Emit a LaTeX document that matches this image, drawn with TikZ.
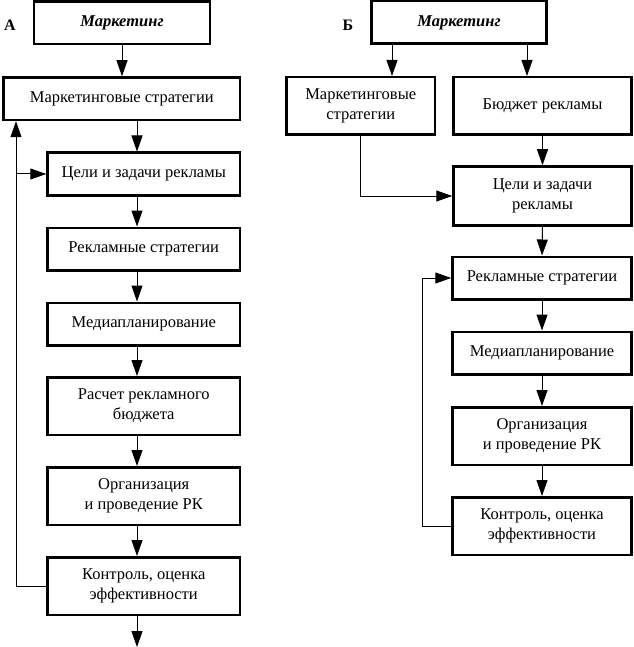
\documentclass[tikz,border=0pt]{standalone}
\usepackage{fontspec}
\setmainfont{Liberation Serif}
\usetikzlibrary{arrows.meta}

\begin{document}
\begin{tikzpicture}[x=1pt,y=-1pt,
	blok/.style={draw, line width=2.5pt, inner sep=0pt, align=center,
		font=\fontsize{16.5}{20}\selectfont},
	odna/.style={blok, minimum height=42.5pt},
	dve/.style={blok, minimum height=57.5pt},
	strel/.style={-{Triangle[length=16pt,width=11pt]}, line width=1pt}]
	\useasboundingbox (0,0) rectangle (633,647);
	% A
	\node[font=\bfseries\fontsize{16}{20}\selectfont] (labA) at (10,25) {А};
	\node[odna, minimum width=176pt, font=\bfseries\itshape\fontsize{16.5}{20}\selectfont] (mA) at (122,23) {Маркетинг};
	\node[odna, minimum width=236.5pt] (sA) at (121.75,98.75) {Маркетинговые стратегии};
	\node[odna, minimum width=192.5pt] (gA) at (143.75,174) {Цели и задачи рекламы};
	\node[odna, minimum width=192.5pt] (rA) at (143.75,249) {Рекламные стратегии};
	\node[odna, minimum width=192.5pt] (medA) at (143.75,324) {Медиапланирование};
	\node[dve, minimum width=192.5pt] (budA) at (143.75,406) {Расчет рекламного\\бюджета};
	\node[dve, minimum width=192.5pt] (orgA) at (143.75,496) {Организация\\и проведение РК};
	\node[dve, minimum width=192.5pt] (kA) at (143.75,586) {Контроль, оценка\\эффективности};
	\coordinate (xA) at (137,0);
	\coordinate (fA) at (16,0);
	\coordinate (endA) at (137,647);
	\draw[strel] (mA.south) -- (mA.south |- sA.north);
	\draw[strel] (sA.south -| xA) -- (gA.north -| xA);
	\draw[strel] (gA.south -| xA) -- (rA.north -| xA);
	\draw[strel] (rA.south -| xA) -- (medA.north -| xA);
	\draw[strel] (medA.south -| xA) -- (budA.north -| xA);
	\draw[strel] (budA.south -| xA) -- (orgA.north -| xA);
	\draw[strel] (orgA.south -| xA) -- (kA.north -| xA);
	\draw[strel] (kA.south -| xA) -- (endA);
	\draw[strel] (kA.west) -| (fA |- sA.south);
	\draw[strel] (fA |- gA.west) -- (gA.west);
	% Б
	\node[font=\bfseries\fontsize{16}{20}\selectfont] (labB) at (348,25) {Б};
	\node[odna, minimum width=175pt, font=\bfseries\itshape\fontsize{16.5}{20}\selectfont] (mB) at (459,22.5) {Маркетинг};
	\node[dve, minimum width=148.5pt] (sB) at (360.75,106) {Маркетинговые\\стратегии};
	\node[dve, minimum width=178pt] (bB) at (542.5,106) {Бюджет рекламы};
	\node[dve, minimum width=178pt, minimum height=59pt] (gB) at (542.5,196) {Цели и задачи\\рекламы};
	\node[odna, minimum width=179pt] (rB) at (542,278) {Рекламные стратегии};
	\node[odna, minimum width=179pt] (medB) at (542,353) {Медиапланирование};
	\node[dve, minimum width=179pt] (orgB) at (542,436) {Организация\\и проведение РК};
	\node[dve, minimum width=179pt] (kB) at (542,526) {Контроль, оценка\\эффективности};
	\coordinate (b1) at (392,0);
	\coordinate (b2) at (527,0);
	\coordinate (fB) at (422,0);
	\draw[strel] (mB.south -| b1) -- (sB.north -| b1);
	\draw[strel] (mB.south -| b2) -- (bB.north -| b2);
	\draw[strel] (bB.south) -- (gB.north);
	\draw[strel] (sB.south) |- (gB.west);
	\draw[strel] (gB.south) -- (rB.north);
	\draw[strel] (rB.south) -- (medB.north);
	\draw[strel] (medB.south) -- (orgB.north);
	\draw[strel] (orgB.south) -- (kB.north);
	\draw[strel] (kB.west) -- (kB.west -| fB) -- (rB.west -| fB) -- (rB.west);
\end{tikzpicture}
\end{document}
